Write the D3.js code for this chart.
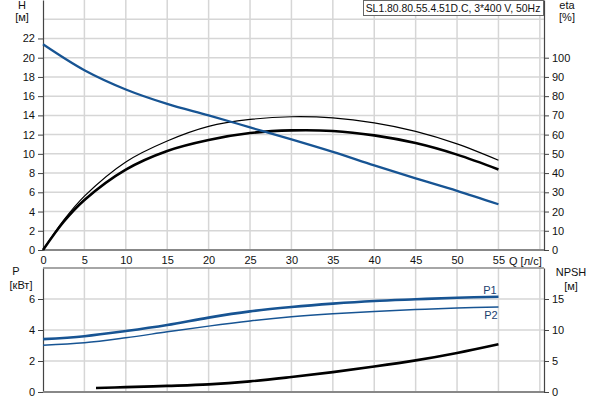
<!DOCTYPE html>
<html>
<head>
<meta charset="utf-8">
<script src="https://cdn.jsdelivr.net/npm/d3@7"></script>
<style>
  body { margin: 0; background: #fff; }
  svg { font-family: "Liberation Sans", Arial, sans-serif; }
  .tick text { font-size: 11px; fill: #111; }
  .tick line { stroke: #444; }
</style>
</head>
<body>
<svg width="600" height="400"></svg>
<script>
// flow points, l/s
var qH    = [0, 5, 10, 15, 20, 25, 30, 35, 40, 45, 50, 55];
var head  = [21.4, 18.7, 16.7, 15.2, 14.0, 12.75, 11.5, 10.2, 8.8, 7.45, 6.15, 4.75];

var qEta    = [0, 2.5, 5, 10, 15, 20, 25, 30, 35, 40, 45, 50, 55];
var etaThin = [0, 15.5, 28, 45.8, 56.7, 64.3, 67.9, 69.3, 68.7, 66.1, 61.7, 55.2, 46.7];
var etaBold = [0, 14.7, 26, 41.8, 51.5, 57.2, 60.8, 62.2, 61.9, 59.6, 55.6, 49.6, 41.9];

var qP = [0, 5, 10, 15, 20, 25, 30, 35, 40, 45, 50, 55];
var p1 = [3.41, 3.6, 3.93, 4.32, 4.8, 5.2, 5.48, 5.7, 5.87, 5.98, 6.08, 6.15];
var p2 = [3.02, 3.18, 3.5, 3.88, 4.25, 4.58, 4.85, 5.05, 5.2, 5.32, 5.42, 5.48];

var qN   = [6.4, 10, 15, 20, 25, 30, 35, 40, 45, 50, 55];
var npsh = [0.65, 0.78, 0.98, 1.23, 1.72, 2.42, 3.2, 4.1, 5.1, 6.3, 7.7];

var qTicks   = [0, 5, 10, 15, 20, 25, 30, 35, 40, 45, 50, 55];
var hTicks   = [0, 2, 4, 6, 8, 10, 12, 14, 16, 18, 20, 22];
var etaTicks = [0, 10, 20, 30, 40, 50, 60, 70, 80, 90, 100];
var pTicks   = [0, 2, 4, 6];
var nTicks   = [0, 5, 10, 15];

var title = "SL1.80.80.55.4.51D.C, 3*400 V, 50Hz";
var blue = "#175493";

var svg = d3.select("svg");
var x    = d3.scaleLinear().domain([0, 60.5]).range([43, 544]);
var yH   = d3.scaleLinear().domain([0, 26]).range([250, 0]);
var yEta = d3.scaleLinear().domain([0, 130]).range([250, 0]);
var yP   = d3.scaleLinear().domain([0, 8]).range([392, 268]);
var yN   = d3.scaleLinear().domain([0, 20]).range([392, 268]);

// grid
var grid = svg.append("g").attr("stroke", "#d6d6d6").attr("stroke-width", 1.5);
grid.selectAll(".vt").data(d3.range(5, 61, 5)).enter().append("line")
    .attr("x1", d => x(d)).attr("x2", d => x(d)).attr("y1", 0).attr("y2", 250);
grid.selectAll(".hz").data(d3.range(2, 25, 2)).enter().append("line")
    .attr("x1", 43).attr("x2", 544).attr("y1", d => yH(d)).attr("y2", d => yH(d));
grid.selectAll(".vb").data(d3.range(5, 61, 5)).enter().append("line")
    .attr("x1", d => x(d)).attr("x2", d => x(d)).attr("y1", 268).attr("y2", 392);
grid.selectAll(".hb").data([2, 4, 6]).enter().append("line")
    .attr("x1", 43).attr("x2", 544).attr("y1", d => yP(d)).attr("y2", d => yP(d));

// axes
function styleAxis(g) {
    g.select(".domain").attr("stroke", "#444").attr("stroke-width", 1.2);
}
svg.append("g").attr("transform", "translate(43,0)")
    .call(d3.axisLeft(yH).tickValues(hTicks).tickSize(5).tickSizeOuter(0).tickPadding(3))
    .call(styleAxis);
svg.append("g").attr("transform", "translate(544,0)")
    .call(d3.axisRight(yEta).tickValues(etaTicks).tickSize(5).tickSizeOuter(0).tickPadding(3))
    .call(styleAxis);
svg.append("g").attr("transform", "translate(0,251)")
    .call(d3.axisBottom(x).tickValues(qTicks).tickSize(0).tickPadding(5))
    .call(g => g.select(".domain").remove());
svg.append("g").attr("transform", "translate(43,0)")
    .call(d3.axisLeft(yP).tickValues(pTicks).tickSize(5).tickSizeOuter(0).tickPadding(3))
    .call(styleAxis);
svg.append("g").attr("transform", "translate(544,0)")
    .call(d3.axisRight(yN).tickValues(nTicks).tickSize(5).tickSizeOuter(0).tickPadding(3))
    .call(styleAxis);

// frame lines
svg.append("line").attr("x1", 43).attr("x2", 544).attr("y1", 250).attr("y2", 250)
    .attr("stroke", "#888").attr("stroke-width", 2);
svg.append("line").attr("x1", 43).attr("x2", 544).attr("y1", 268).attr("y2", 268)
    .attr("stroke", "#888").attr("stroke-width", 1.5);
svg.append("line").attr("x1", 43).attr("x2", 544).attr("y1", 392).attr("y2", 392)
    .attr("stroke", "#888").attr("stroke-width", 2);

// curves
function draw(qs, vs, ys, color, w) {
    var line = d3.line().curve(d3.curveCatmullRom.alpha(0.5))
        .x(d => x(d[0])).y(d => ys(d[1]));
    svg.append("path").attr("fill", "none").attr("stroke", color)
        .attr("stroke-width", w).attr("stroke-linejoin", "round")
        .attr("d", line(qs.map((q, i) => [q, vs[i]])));
}
draw(qEta, etaThin, yEta, "#000", 1.2);
draw(qEta, etaBold, yEta, "#000", 2.6);
draw(qH, head, yH, blue, 2.2);
draw(qP, p2, yP, blue, 1.5);
draw(qP, p1, yP, blue, 2.6);
draw(qN, npsh, yN, "#000", 2.6);

// labels
function label(t, lx, ly, anchor, color, size) {
    svg.append("text").attr("x", lx).attr("y", ly).attr("text-anchor", anchor || "middle")
        .attr("font-size", size || 11).attr("fill", color || "#111").text(t);
}
label("H", 22, 9);
label("[м]", 22, 21);
label("eta", 567, 9);
label("[%]", 567, 21);
label("P", 16, 275);
label("[кВт]", 21, 289);
label("NPSH", 571, 276);
label("[м]", 571, 290);
label("Q [л/с]", 509, 265, "start");
label("P1", 490, 294, "middle", "#1a3d6e");
label("P2", 491, 319, "middle", "#1a3d6e");

// title box
svg.append("rect").attr("x", 363.5).attr("y", 0.5).attr("width", 180).attr("height", 15)
    .attr("fill", "#fff").attr("stroke", "#666");
label(title, 453, 12, "middle", "#111", 10.4);
</script>
</body>
</html>
